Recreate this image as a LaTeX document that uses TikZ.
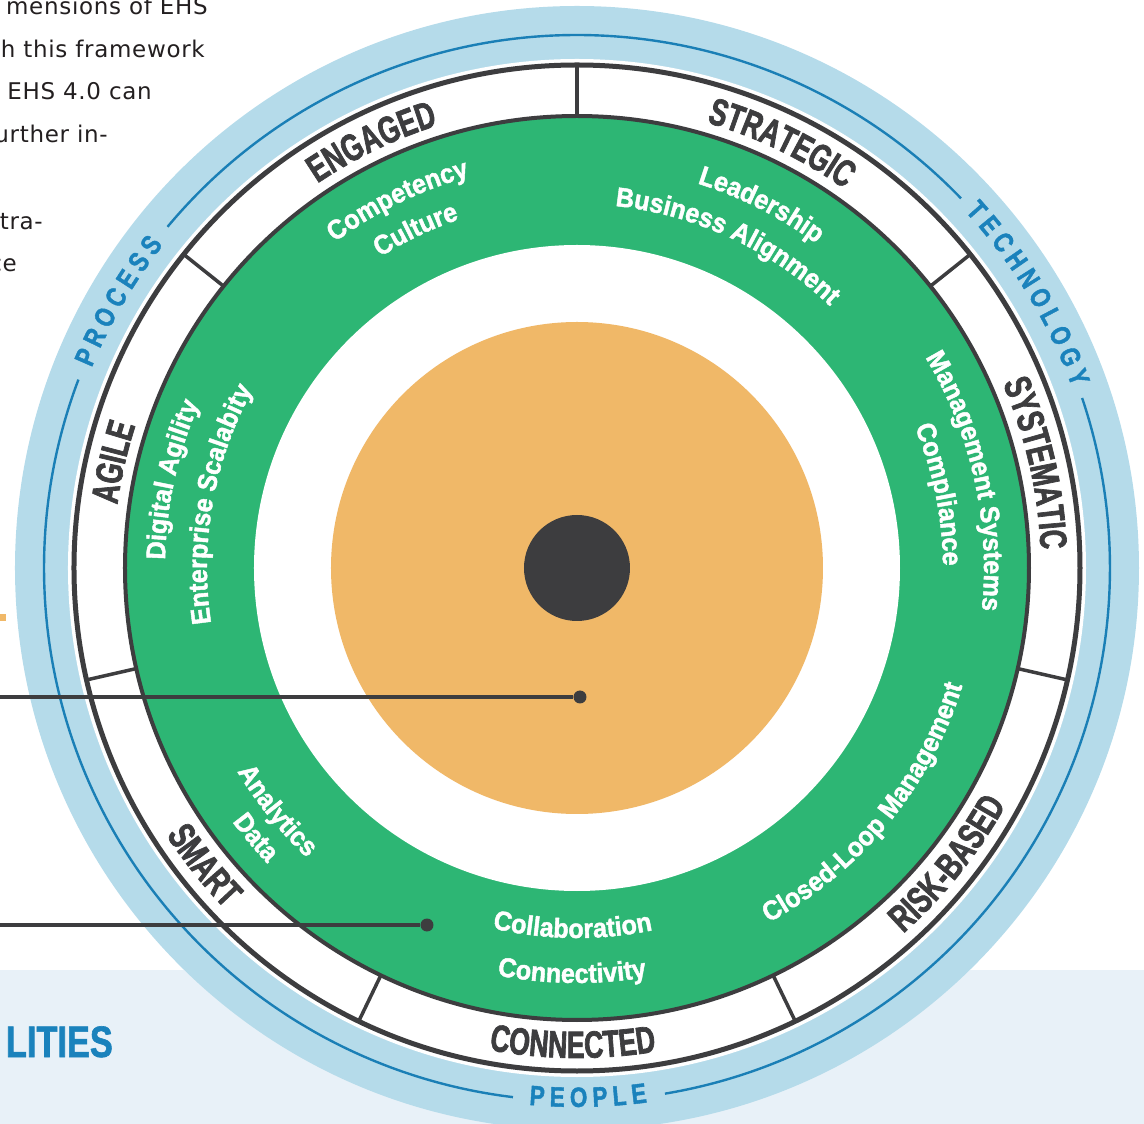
\documentclass[tikz,border=0pt]{standalone}
\usepackage{fontspec}
\setmainfont{DejaVu Sans}
\newfontfamily\bodyfont[LetterSpace=3]{DejaVu Sans}
\newfontfamily\ringfont[FakeStretch=0.7,FakeBold=1.8]{Liberation Sans Bold}
\newfontfamily\greenfont[FakeStretch=0.93,FakeBold=1.6]{Liberation Sans Bold}
\newfontfamily\bluefont[FakeStretch=0.8,FakeBold=1.5]{Liberation Sans Bold}
\newfontfamily\capsfont[FakeStretch=0.78,FakeBold=1.4]{Liberation Sans Bold}
\usetikzlibrary{decorations.text}

\definecolor{bandbg}{HTML}{E8F1F8}
\definecolor{lightring}{HTML}{B5DBEA}
\definecolor{blueline}{HTML}{1A7FB6}
\definecolor{bluetext}{HTML}{1A82BC}
\definecolor{greenring}{HTML}{2DB674}
\definecolor{orangedisk}{HTML}{F0B868}
\definecolor{ringgray}{HTML}{3D3D3F}
\definecolor{bodyblack}{HTML}{231F20}

% text arcs: clockwise over the top, anticlockwise under the bottom
\newcommand\overarc[2]{({#1+40}:#2) arc[start angle={#1+40},delta angle=-80,radius=#2]}
\newcommand\underarc[2]{({#1-40}:#2) arc[start angle={#1-40},delta angle=80,radius=#2]}
% tracking for the outer words
\newcommand\tk{\kern5.5pt}

\begin{document}
\begin{tikzpicture}[x=1pt,y=1pt,
	ringlabel/.style={decorate,decoration={text along path,text align=center,text color=ringgray,
		text={|\ringfont\fontsize{38}{40}\selectfont|#1}}},
	greenlabel/.style={decorate,decoration={text along path,text align=center,text color=white,
		text={|\greenfont\fontsize{27}{29}\selectfont|#1}}},
	bluelabel/.style={decorate,decoration={text along path,text align=center,text color=bluetext,
		text={|\bluefont\fontsize{28}{30}\selectfont|#1}}},
	dot/.style={circle,fill=ringgray,inner sep=0pt,minimum size=13pt},
	leader/.style={ringgray,line width=4.5pt},
	para/.style={anchor=base east,inner sep=0pt,text=bodyblack,font=\bodyfont\fontsize{23}{25}\selectfont}]
	\useasboundingbox (-577,-556) rectangle (567,568);
	\fill[bandbg] (-577,-556) rectangle (567,-402);

	% rings
	\fill[lightring] (0,0) circle (562);
	\fill[white] (0,0) circle (509);
	\draw[blueline,line width=2.4pt] (43.9:533) arc[start angle=43.9,end angle=140.2,radius=533]
		(159.3:533) arc[start angle=159.3,end angle=263.1,radius=533]
		(279.5:533) arc[start angle=279.5,end angle=378.6,radius=533];
	\fill[greenring] (0,0) circle (452);
	\fill[white] (0,0) circle (323);
	\draw[ringgray,line width=5pt] (0,0) circle (503);
	\draw[ringgray,line width=4pt] (0,0) circle (452);
	\foreach \a in {0,...,6}
		\draw[ringgray,line width=3.5pt] ({90+\a*360/7}:452) -- ({90+\a*360/7}:503);
	\fill[orangedisk] (0,0) circle (246);
	\fill[ringgray] (0,0) circle (53);

	% outer words
	\path[bluelabel={{P\tk}{R\tk}{O\tk}{C\tk}{E\tk}{S\tk}S}] \overarc{149.8}{525};
	\path[bluelabel={{T\tk}{E\tk}{C\tk}{H\tk}{N\tk}{O\tk}{L\tk}{O\tk}{G\tk}Y}] \overarc{31.3}{527};
	\path[bluelabel={{P\tk}{E\tk}{O\tk}{P\tk}{L\tk}E}] \underarc{271.2}{539};

	% ring words
	\path[ringlabel=ENGAGED] \overarc{115.71}{464};
	\path[ringlabel=AGILE] \overarc{167.14}{464};
	\path[ringlabel=STRATEGIC] \overarc{64.29}{464};
	\path[ringlabel=SYSTEMATIC] \overarc{12.86}{464};
	\path[ringlabel=SMART] \underarc{218.57}{490};
	\path[ringlabel=CONNECTED] \underarc{269.5}{490};
	\path[ringlabel=RISK-BASED] \underarc{321.43}{490};

	% green words
	\path[greenlabel=Competency] \overarc{116}{406};
	\path[greenlabel=Culture] \overarc{115.5}{368};
	\path[greenlabel=Leadership] \overarc{63.1}{403};
	\path[greenlabel=Business Alignment] \overarc{65}{364};
	\path[greenlabel=Management Systems] \overarc{12.6}{407};
	\path[greenlabel=Compliance] \overarc{11.5}{366};
	\path[greenlabel=Digital Agility] \overarc{167.7}{412};
	\path[greenlabel=Enterprise Scalabity] \overarc{169.9}{370};
	\path[greenlabel=Analytics] \underarc{219}{396};
	\path[greenlabel=Data] \underarc{220}{428};
	\path[greenlabel=Collaboration] \underarc{269.3}{370};
	\path[greenlabel=Connectivity] \underarc{269.3}{415};
	\path[greenlabel=Closed-Loop Management] \underarc{320.7}{403};

	% leaders
	\coordinate (hubend) at (-577,-129);
	\coordinate (rimend) at (-577,-357);
	\node[dot] (hubdot) at (3,-129) {};
	\node[dot] (rimdot) at (-150,-357) {};
	\draw[leader] (hubend) -- (hubdot);
	\draw[leader] (rimend) -- (rimdot);

	% text round the picture
	\node[para] (line1) at (-369,553) {mensions of EHS};
	\node[para] (line2) at (-372,510) {h this framework};
	\node[para] (line3) at (-425,468) {EHS 4.0 can};
	\node[para] (line4) at (-469,425) {urther in-};
	\node[para] (line5) at (-534,338) {tra-};
	\node[para] (line6) at (-560,296) {ce};
	\node[anchor=base east,inner sep=0pt,text=bluetext,font=\capsfont\fontsize{44}{44}\selectfont] (lities) at (-464,-489) {LITIES};
	\fill[orangedisk] (-577,-53) rectangle (-571,-46);
\end{tikzpicture}
\end{document}
